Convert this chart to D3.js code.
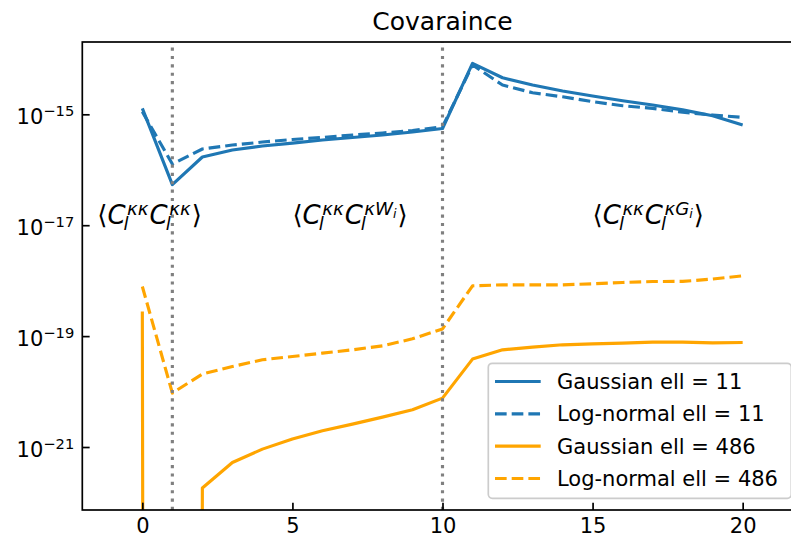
<!DOCTYPE html>
<html>
<head>
<meta charset="utf-8">
<script src="https://cdn.jsdelivr.net/npm/d3@7"></script>
<style>
  html, body { margin: 0; padding: 0; background: #fff; }
  svg { display: block; font-family: "DejaVu Sans", sans-serif; }
</style>
</head>
<body>
<svg id="chart" width="791" height="535"></svg>
<script>
// Multipole bin index (x axis)
const binIndex = [0, 1, 2, 3, 4, 5, 6, 7, 8, 9, 10, 11, 12, 13, 14, 15, 16, 17, 18, 19, 20];

// Covariance values per bin
const gaussian11 = [1.28e-15, 5.4e-17, 1.7e-16, 2.27e-16, 2.68e-16, 3.03e-16, 3.44e-16, 3.82e-16, 4.23e-16, 4.80e-16, 5.55e-16,
                    8.3e-15, 4.57e-15, 3.37e-15, 2.63e-15, 2.14e-15, 1.76e-15, 1.47e-15, 1.20e-15, 9.4e-16, 6.4e-16];
const lognormal11 = [1.11e-15, 1.27e-16, 2.37e-16, 2.79e-16, 3.16e-16, 3.51e-16, 3.82e-16, 4.23e-16, 4.60e-16, 5.1e-16, 5.97e-16,
                     7.75e-15, 3.37e-15, 2.45e-15, 2.07e-15, 1.69e-15, 1.43e-15, 1.28e-15, 1.09e-15, 9.7e-16, 8.8e-16];
const gaussian486 = [2.78e-19, 0, 1.82e-22, 5.25e-22, 9.16e-22, 1.39e-21, 1.96e-21, 2.59e-21, 3.46e-21, 4.69e-21, 7.62e-21,
                     3.85e-20, 5.66e-20, 6.34e-20, 6.97e-20, 7.26e-20, 7.48e-20, 7.8e-20, 7.8e-20, 7.57e-20, 7.67e-20];
const lognormal486 = [7.85e-19, 9.4e-21, 2.07e-20, 2.83e-20, 3.74e-20, 4.29e-20, 4.93e-20, 5.66e-20, 6.68e-20, 8.93e-20, 1.35e-19,
                      8.07e-19, 8.41e-19, 8.41e-19, 8.4e-19, 8.77e-19, 9.27e-19, 9.66e-19, 9.7e-19, 1.07e-18, 1.22e-18];

const seriesNames = ["Gaussian ell = 11", "Log-normal ell = 11", "Gaussian ell = 486", "Log-normal ell = 486"];
const seriesValues = [gaussian11, lognormal11, gaussian486, lognormal486];

// Block boundaries and block labels
const blockEdges = [1, 10];
const blockLabels = [
  { x: -1.5, y: 1e-17, sup2: "κκ", sup2Sub: "" },
  { x: 5,    y: 1e-17, sup2: "κW", sup2Sub: "i" },
  { x: 15,   y: 1e-17, sup2: "κG", sup2Sub: "i" }
];

const xTicks = [0, 5, 10, 15, 20];
const yTickExponents = [-15, -17, -19, -21];
const xDomain = [-2, 22];
const yDomain = [Math.pow(10, -22.136), Math.pow(10, -13.696)];

// ---- layout ----
const margin = { left: 82.3, right: 802.7, top: 42, bottom: 510 };
const FS = 21;                 // base font size
const MFS = 26;                // block label font size
const LW = 3.15;               // line width
const dashed = [11.65, 5.04];
const dotted = [3.15, 5.2];
const colors = ["#1f77b4", "#1f77b4", "#ffa500", "#ffa500"];
const dashes = [null, dashed, null, dashed];

const svg = d3.select("#chart");

const x = d3.scaleLinear().domain(xDomain).range([margin.left, margin.right]);
const y = d3.scaleLog().domain(yDomain).range([margin.bottom, margin.top]);

svg.append("defs").append("clipPath").attr("id", "plotClip")
  .append("rect")
  .attr("x", margin.left).attr("y", margin.top)
  .attr("width", margin.right - margin.left).attr("height", margin.bottom - margin.top);

// Non-positive values are clipped to a tiny positive number, as a log axis would
const line = d3.line()
  .x((d, i) => x(binIndex[i]))
  .y(d => y(d > 0 ? d : 1e-300));

const plot = svg.append("g").attr("clip-path", "url(#plotClip)");

seriesValues.forEach((vals, k) => {
  plot.append("path")
    .datum(vals)
    .attr("d", line)
    .attr("fill", "none")
    .attr("stroke", colors[k])
    .attr("stroke-width", LW)
    .attr("stroke-linejoin", "round")
    .attr("stroke-dasharray", dashes[k] ? dashes[k].join(",") : null);
});

// Vertical dotted separators
plot.selectAll("line.edge")
  .data(blockEdges)
  .join("line")
  .attr("class", "edge")
  .attr("x1", d => x(d)).attr("x2", d => x(d))
  .attr("y1", margin.bottom).attr("y2", margin.top)
  .attr("stroke", "#808080")
  .attr("stroke-width", LW)
  .attr("stroke-dasharray", dotted.join(","));

// ---- axes ----
const xAxis = d3.axisBottom(x).tickValues(xTicks).tickSizeInner(-7.35).tickSizeOuter(0).tickPadding(8.3)
  .tickFormat(d3.format("d"));
const gx = svg.append("g").attr("transform", `translate(0,${margin.bottom})`).call(xAxis);
gx.select(".domain").remove();
gx.selectAll(".tick line").attr("stroke", "#000").attr("stroke-width", 1.7);
gx.selectAll(".tick text").attr("font-size", FS).attr("font-family", "DejaVu Sans").attr("fill", "#000");

const yAxis = d3.axisLeft(y).tickValues(yTickExponents.map(e => Math.pow(10, e)))
  .tickSizeInner(-7.35).tickSizeOuter(0).tickPadding(8).tickFormat(() => "");
const gy = svg.append("g").attr("transform", `translate(${margin.left},0)`).call(yAxis);
gy.select(".domain").remove();
gy.selectAll(".tick line").attr("stroke", "#000").attr("stroke-width", 1.7);
gy.selectAll(".tick text")
  .attr("font-size", FS).attr("font-family", "DejaVu Sans").attr("fill", "#000")
  .attr("dy", null)
  .each(function(d) {
    const t = d3.select(this);
    const e = Math.round(Math.log10(d));
    t.append("tspan").attr("dy", 9).text("10");
    t.append("tspan").attr("dy", -7.8).attr("font-size", FS * 0.7).text("\u2212" + Math.abs(e));
  });

// Frame
svg.append("rect")
  .attr("x", margin.left).attr("y", margin.top)
  .attr("width", margin.right - margin.left).attr("height", margin.bottom - margin.top)
  .attr("fill", "none").attr("stroke", "#000").attr("stroke-width", 1.7);

// Title
svg.append("text")
  .attr("x", (margin.left + margin.right) / 2).attr("y", 29.5)
  .attr("text-anchor", "middle").attr("font-size", 25).attr("fill", "#000")
  .text("Covaraince");

// ---- block labels: ⟨C_l^{κκ} C_l^{..}⟩, one text element per label ----
const measurer = svg.append("text").attr("visibility", "hidden");
function textWidth(txt, size, italic) {
  measurer.attr("font-size", size).attr("font-style", italic ? "italic" : "normal").text(txt);
  return measurer.node().getComputedTextLength();
}

function mathLabel(spec) {
  const base = y(spec.y) - 1.5;
  const sFS = MFS * 0.7;
  const pieces = [];
  let cx = x(spec.x);
  function piece(txt, size, italic, dy, px) {
    pieces.push({ txt, size, italic, x: px, y: base + dy });
    return textWidth(txt, size, italic);
  }
  function script(supTxt, supSub) {
    const start = cx;
    const wSub = piece("l", sFS, true, 6.5, start - 2) - 2;
    let wSup = piece(supTxt, sFS, true, -8.5, start + 1.5);
    if (supSub) wSup += piece(supSub, sFS * 0.7, true, -5.5, start + 1.5 + wSup);
    cx = start + Math.max(wSub, wSup + 1.5) + 1;
  }
  cx += piece("\u27e8", MFS, false, 0, cx);
  cx += piece("C", MFS, true, 0, cx);
  script("κκ", "");
  cx += piece("C", MFS, true, 0, cx);
  script(spec.sup2, spec.sup2Sub);
  cx += piece("\u27e9", MFS, false, 0, cx);

  svg.append("text")
    .attr("fill", "#000")
    .selectAll("tspan")
    .data(pieces)
    .join("tspan")
    .attr("x", d => d.x).attr("y", d => d.y)
    .attr("font-size", d => d.size)
    .attr("font-style", d => d.italic ? "italic" : "normal")
    .text(d => d.txt);
}
blockLabels.forEach(mathLabel);
measurer.remove();

// ---- legend ----
const lg = svg.append("g");
const lgBox = { x: 488.3, y: 363.3, w: 303, h: 135 };
lg.append("rect")
  .attr("x", lgBox.x).attr("y", lgBox.y)
  .attr("width", lgBox.w).attr("height", lgBox.h)
  .attr("rx", 4).attr("ry", 4)
  .attr("fill", "#fff").attr("fill-opacity", 0.8)
  .attr("stroke", "#cccccc").attr("stroke-width", 1.7);
const rowY = d3.scaleLinear().domain([0, 3]).range([381.5, 478.5]);
seriesNames.forEach((name, k) => {
  const ry = rowY(k);
  lg.append("line")
    .attr("x1", 495).attr("x2", 540.7).attr("y1", ry).attr("y2", ry)
    .attr("stroke", colors[k]).attr("stroke-width", LW)
    .attr("stroke-dasharray", dashes[k] ? dashes[k].join(",") : null);
  lg.append("text")
    .attr("x", 557).attr("y", ry + 7.6)
    .attr("font-size", FS).attr("fill", "#000")
    .text(name);
});
</script>
</body>
</html>
